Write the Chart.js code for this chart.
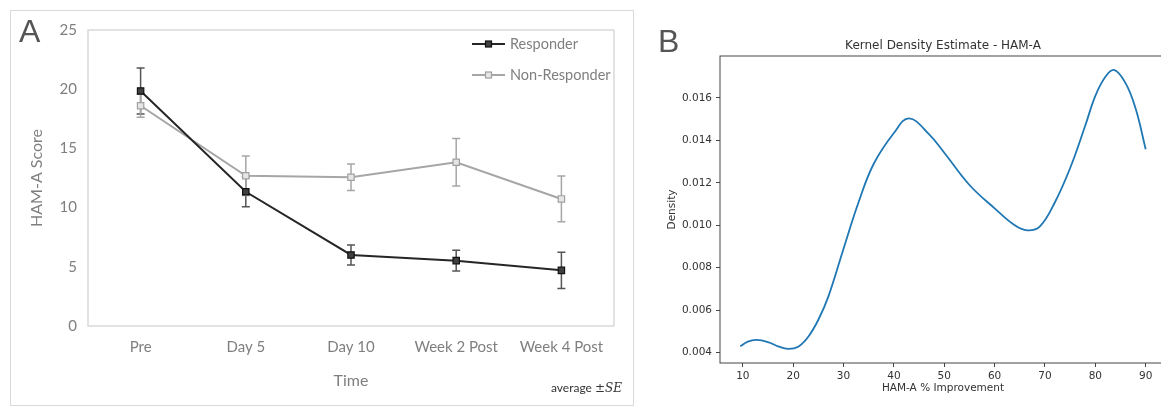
<!DOCTYPE html>
<html>
<head>
<meta charset="utf-8">
<script src="https://cdn.jsdelivr.net/npm/chart.js@4.4.1/dist/chart.umd.min.js"></script>
<style>
  html, body { margin: 0; padding: 0; background: #fff; width: 1161px; height: 406px; overflow: hidden; }
  body { position: relative; }
  #frameA { position: absolute; left: 10px; top: 10px; width: 622px; height: 394px; border: 1px solid #d9d9d9; }
  canvas { position: absolute; top: 0; }
  #chartA { left: 0; }
  #chartB { left: 640px; }
  .panel { position: absolute; font-family: "Liberation Sans", Arial, sans-serif; font-size: 32px; line-height: 32px; color: #555; }
  #note { position: absolute; right: 539px; top: 380px; font-family: Lato, sans-serif; font-size: 12px; color: #333; }
  #note i { font-family: "DejaVu Serif", serif; font-size: 12px; }
</style>
</head>
<body>
<div id="frameA"></div>
<canvas id="chartA" width="640" height="406"></canvas>
<canvas id="chartB" width="540" height="406"></canvas>
<div class="panel" style="left:19px;top:15px">A</div>
<div class="panel" style="left:658px;top:25px">B</div>
<div id="note">average <i>±SE</i></div>
<script>
(function () {
    'use strict';

    // Panel A: HAM-A score over time
    var timeLabels = ['Pre', 'Day 5', 'Day 10', 'Week 2 Post', 'Week 4 Post'];
    var responderMean = [19.85, 11.34, 6.0, 5.52, 4.70];
    var responderSE = [1.95, 1.27, 0.85, 0.88, 1.53];
    var nonResponderMean = [18.6, 12.69, 12.56, 13.83, 10.73];
    var nonResponderSE = [0.97, 1.66, 1.12, 2.0, 1.93];
    var scoreTicks = [0, 5, 10, 15, 20, 25];

    // Panel B: kernel density estimate
    var kdeX = [9.5, 11, 12.7, 15, 17, 19, 21, 23, 25, 27, 30, 33, 36, 40, 43, 47, 50, 55, 60, 64, 66.5, 69, 72, 75, 78, 80, 82, 83.7, 86, 88, 90];
    var kdeY = [0.0043, 0.00452, 0.0046, 0.0045, 0.0043, 0.00418, 0.00428, 0.00475, 0.00555, 0.00665, 0.0089, 0.0111, 0.0129, 0.01435, 0.01504, 0.01428, 0.01342, 0.0119, 0.0108, 0.0100, 0.00976, 0.00995, 0.0111, 0.0127, 0.0147, 0.0161, 0.0170, 0.01732, 0.0167, 0.0155, 0.01358];
    var improvementTicks = [10, 20, 30, 40, 50, 60, 70, 80, 90];
    var densityTicks = [0.004, 0.006, 0.008, 0.010, 0.012, 0.014, 0.016];

    var grayText = '#7f7f7f';
    var errors = [responderSE, nonResponderSE];

    var errorBars = {
        id: 'errorBars',
        beforeDatasetsDraw: function (chart) {
            var ctx = chart.ctx;
            var y = chart.scales.y;
            chart.data.datasets.forEach(function (ds, i) {
                var meta = chart.getDatasetMeta(i);
                ctx.save();
                ctx.strokeStyle = ds.errorColor;
                ctx.lineWidth = 1.5;
                meta.data.forEach(function (pt, j) {
                    var v = ds.data[j], e = errors[i][j];
                    var top = y.getPixelForValue(v + e), bot = y.getPixelForValue(v - e);
                    ctx.beginPath();
                    ctx.moveTo(pt.x, top); ctx.lineTo(pt.x, bot);
                    ctx.moveTo(pt.x - 4, top); ctx.lineTo(pt.x + 4, top);
                    ctx.moveTo(pt.x - 4, bot); ctx.lineTo(pt.x + 4, bot);
                    ctx.stroke();
                });
                ctx.restore();
            });
        }
    };

    var frameA = {
        id: 'frameA',
        beforeDraw: function (chart) {
            var a = chart.chartArea, ctx = chart.ctx;
            ctx.save();
            ctx.strokeStyle = '#d9d9d9';
            ctx.lineWidth = 1.5;
            ctx.strokeRect(a.left, a.top, a.right - a.left, a.bottom - a.top);
            ctx.restore();
        }
    };

    var legendA = {
        id: 'legendA',
        afterDraw: function (chart) {
            var a = chart.chartArea, ctx = chart.ctx;
            ctx.save();
            chart.data.datasets.forEach(function (ds, i) {
                var yy = a.top + 14 + i * 31;
                var x0 = a.right - 142, x1 = a.right - 109, xm = (x0 + x1) / 2;
                ctx.strokeStyle = ds.borderColor;
                ctx.lineWidth = ds.borderWidth;
                ctx.beginPath(); ctx.moveTo(x0, yy); ctx.lineTo(x1, yy); ctx.stroke();
                ctx.fillStyle = ds.pointBackgroundColor;
                ctx.strokeStyle = ds.pointBorderColor;
                ctx.lineWidth = 1.2;
                ctx.fillRect(xm - 3, yy - 3, 6, 6);
                ctx.strokeRect(xm - 3, yy - 3, 6, 6);
                ctx.fillStyle = grayText;
                ctx.font = '14.5px Lato, sans-serif';
                ctx.textBaseline = 'middle';
                ctx.fillText(ds.label, a.right - 104, yy);
            });
            ctx.restore();
        }
    };

    new Chart(document.getElementById('chartA'), {
        type: 'line',
        data: {
            labels: timeLabels,
            datasets: [{
                label: 'Responder',
                data: responderMean,
                borderColor: '#262626',
                borderWidth: 2,
                pointStyle: 'rect',
                pointRadius: 4.5,
                pointBackgroundColor: '#404040',
                pointBorderColor: '#111',
                pointBorderWidth: 1.2,
                errorColor: '#555',
                tension: 0
            }, {
                label: 'Non-Responder',
                data: nonResponderMean,
                borderColor: '#a6a6a6',
                borderWidth: 2,
                pointStyle: 'rect',
                pointRadius: 4.5,
                pointBackgroundColor: '#e6e6e6',
                pointBorderColor: '#a0a0a0',
                pointBorderWidth: 1.2,
                errorColor: '#a6a6a6',
                tension: 0
            }]
        },
        options: {
            responsive: false,
            animation: false,
            layout: { padding: { left: 0, top: 30, right: 26, bottom: 0 } },
            plugins: { legend: { display: false }, tooltip: { enabled: false } },
            scales: {
                x: {
                    type: 'category',
                    offset: true,
                    grid: { display: false, drawTicks: false },
                    border: { display: false },
                    ticks: { color: grayText, font: { family: 'Lato', size: 15 }, padding: 12, maxRotation: 0 },
                    title: { display: true, text: 'Time', color: grayText, font: { family: 'Lato', size: 16 }, padding: { top: 0, bottom: 16 } },
                    afterFit: function (s) { s.height = 80; }
                },
                y: {
                    min: 0,
                    max: 25,
                    grid: { display: false, drawTicks: false },
                    border: { display: false },
                    ticks: { color: grayText, font: { family: 'Lato', size: 15 }, padding: 11 },
                    afterBuildTicks: function (s) { s.ticks = scoreTicks.map(function (v) { return { value: v }; }); },
                    title: { display: true, text: 'HAM-A Score', color: grayText, font: { family: 'Lato', size: 16 }, padding: { top: 27, bottom: 0 } },
                    afterFit: function (s) { s.width = 88; }
                }
            }
        },
        plugins: [frameA, errorBars, legendA]
    });

    var frameB = {
        id: 'frameB',
        afterDraw: function (chart) {
            var a = chart.chartArea, ctx = chart.ctx;
            ctx.save();
            ctx.strokeStyle = '#444';
            ctx.lineWidth = 1;
            ctx.strokeRect(a.left, a.top, a.right - a.left, a.bottom - a.top);
            ctx.fillStyle = '#333';
            ctx.font = '12px "DejaVu Sans", sans-serif';
            ctx.textAlign = 'center';
            ctx.textBaseline = 'middle';
            ctx.fillText('Kernel Density Estimate - HAM-A', (a.left + a.right) / 2, a.top - 10);
            ctx.restore();
        }
    };

    var tickFontB = { family: 'DejaVu Sans', size: 10.5 };

    new Chart(document.getElementById('chartB'), {
        type: 'line',
        data: {
            datasets: [{
                data: kdeX.map(function (x, i) { return { x: x, y: kdeY[i] }; }),
                borderColor: '#1f77b4',
                borderWidth: 1.8,
                pointRadius: 0,
                tension: 0.4,
                fill: false
            }]
        },
        options: {
            responsive: false,
            animation: false,
            layout: { padding: { left: 0, top: 56, right: 14, bottom: 0 } },
            plugins: { legend: { display: false }, tooltip: { enabled: false } },
            scales: {
                x: {
                    type: 'linear',
                    min: 5.47,
                    max: 94.03,
                    grid: { display: true, drawOnChartArea: false, drawTicks: true, tickLength: 4, tickColor: '#444' },
                    border: { display: false },
                    ticks: { color: '#333', font: tickFontB, padding: 3, maxRotation: 0 },
                    afterBuildTicks: function (s) { s.ticks = improvementTicks.map(function (v) { return { value: v }; }); },
                    title: { display: true, text: 'HAM-A % Improvement', color: '#333', font: tickFontB, padding: { top: 0, bottom: 11 } },
                    afterFit: function (s) { s.height = 43; }
                },
                y: {
                    min: 0.003512,
                    max: 0.017978,
                    grid: { display: true, drawOnChartArea: false, drawTicks: true, tickLength: 4, tickColor: '#444' },
                    border: { display: false },
                    ticks: {
                        color: '#333', font: tickFontB, padding: 4,
                        callback: function (v) { return v.toFixed(3); }
                    },
                    afterBuildTicks: function (s) { s.ticks = densityTicks.map(function (v) { return { value: v }; }); },
                    title: { display: true, text: 'Density', color: '#333', font: tickFontB, padding: { top: 26, bottom: 0 } },
                    afterFit: function (s) { s.width = 80; }
                }
            }
        },
        plugins: [frameB]
    });
})();
</script>
</body>
</html>
